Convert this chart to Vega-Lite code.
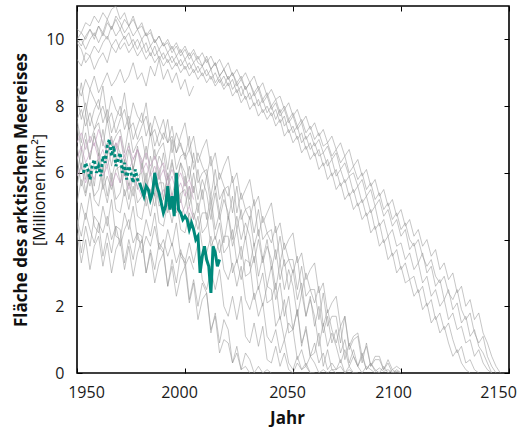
{
"$schema":"https://vega.github.io/schema/vega-lite/v6.json",
"width":432,"height":367,
"autosize":{"type":"none"},
"padding":{"left":77,"top":6,"right":12,"bottom":54},
"background":"white",
"config":{"view":{"stroke":"black","strokeWidth":1.6},"font":"Open Sans","axis":{"grid":false,"domain":false,"labelFont":"Open Sans","labelFontSize":16,"labelColor":"#1a1a1a","tickColor":"black","tickWidth":1,"titleFont":"Open Sans","titleColor":"#111"}},
"datasets":{
"runs":[
{"year":1950,"a1":10.0,"a2":10.3,"a3":9.9,"a4":10.0,"a5":9.4,"a6":9.9,"h1":8.6,"h2":7.6,"h3":6.4,"h4":5.9,"h5":4.6,"h6":6.9,"b1":7.4,"b2":5.9,"b3":8.3,"b4":5.1,"b5":4.2,"b6":6.8,"b7":8.0,"b8":6.5,"b9":4.3,"b10":7.6,"b11":5.6,"b12":4.6},
{"year":1952,"a1":9.8,"a2":10.2,"a3":10.0,"a4":10.2,"a5":9.2,"a6":9.7,"h1":8.3,"h2":7.9,"h3":6.8,"h4":6.2,"h5":4.1,"h6":7.2,"b1":6.7,"b2":6.7,"b3":7.6,"b4":5.8,"b5":3.3,"b6":6.1,"b7":8.7,"b8":5.6,"b9":5.1,"b10":6.9,"b11":6.3,"b12":3.6},
{"year":1954,"a1":10.1,"a2":10.5,"a3":9.7,"a4":10.0,"a5":9.6,"a6":9.3,"h1":8.8,"h2":7.4,"h3":6.3,"h4":5.7,"h5":4.8,"h6":6.7,"b1":7.2,"b2":5.8,"b3":8.1,"b4":5.3,"b5":4.0,"b6":7.0,"b7":7.8,"b8":6.1,"b9":4.6,"b10":7.8,"b11":5.4,"b12":4.4},
{"year":1956,"a1":10.3,"a2":10.4,"a3":10.0,"a4":10.3,"a5":9.5,"a6":9.5,"h1":8.5,"h2":7.8,"h3":6.6,"h4":6.1,"h5":4.3,"h6":7.1,"b1":6.4,"b2":6.3,"b3":7.4,"b4":6.0,"b5":3.1,"b6":6.4,"b7":8.5,"b8":5.6,"b9":5.4,"b10":6.9,"b11":6.1,"b12":3.8},
{"year":1958,"a1":10.0,"a2":10.7,"a3":10.2,"a4":10.1,"a5":9.8,"a6":9.1,"h1":8.9,"h2":7.3,"h3":6.9,"h4":5.8,"h5":3.9,"h6":6.8,"b1":7.2,"b2":5.6,"b3":7.9,"b4":5.2,"b5":3.8,"b6":7.1,"b7":8.2,"b8":6.3,"b9":4.4,"b10":7.3,"b11":5.3,"b12":4.7},
{"year":1960,"a1":10.4,"a2":10.5,"a3":9.9,"a4":10.4,"a5":9.6,"a6":9.4,"h1":8.4,"h2":7.7,"h3":6.4,"h4":6.3,"h5":4.5,"h6":7.3,"b1":6.5,"b2":6.6,"b3":8.2,"b4":5.0,"b5":4.1,"b6":6.7,"b7":7.9,"b8":6.4,"b9":4.2,"b10":7.5,"b11":5.5,"b12":4.5},
{"year":1962,"a1":10.2,"a2":10.8,"a3":10.2,"a4":10.1,"a5":9.9,"a6":9.6,"h1":8.7,"h2":8.0,"h3":6.7,"h4":5.9,"h5":4.2,"h6":6.9,"b1":7.3,"b2":5.7,"b3":7.5,"b4":5.7,"b5":3.2,"b6":6.0,"b7":8.6,"b8":5.5,"b9":5.0,"b10":6.8,"b11":6.2,"b12":3.5},
{"year":1964,"a1":10.6,"a2":10.6,"a3":10.0,"a4":10.5,"a5":10.1,"a6":9.3,"h1":9.0,"h2":7.5,"h3":6.2,"h4":6.2,"h5":4.7,"h6":6.6,"b1":6.5,"b2":6.5,"b3":7.9,"b4":5.1,"b5":3.9,"b6":6.9,"b7":7.6,"b8":5.9,"b9":4.4,"b10":7.6,"b11":5.3,"b12":4.2},
{"year":1966,"a1":10.3,"a2":10.9,"a3":10.4,"a4":10.3,"a5":9.8,"a6":9.8,"h1":8.6,"h2":7.8,"h3":6.6,"h4":5.6,"h5":4.0,"h6":7.0,"b1":7.1,"b2":5.8,"b3":7.2,"b4":5.8,"b5":3.0,"b6":6.2,"b7":8.3,"b8":5.5,"b9":5.2,"b10":6.8,"b11":6.0,"b12":3.6},
{"year":1968,"a1":10.7,"a2":11.0,"a3":10.1,"a4":10.6,"a5":10.0,"a6":9.6,"h1":8.8,"h2":7.2,"h3":6.9,"h4":6.0,"h5":4.4,"h6":6.7,"b1":6.3,"b2":6.4,"b3":7.6,"b4":4.9,"b5":3.7,"b6":6.9,"b7":7.9,"b8":6.1,"b9":4.1,"b10":7.1,"b11":5.2,"b12":4.4},
{"year":1970,"a1":10.5,"a2":10.6,"a3":10.3,"a4":10.3,"a5":9.7,"a6":9.9,"h1":9.1,"h2":7.6,"h3":6.3,"h4":5.7,"h5":3.8,"h6":7.1,"b1":7.1,"b2":5.7,"b3":8.0,"b4":4.8,"b5":4.0,"b6":6.6,"b7":7.7,"b8":6.2,"b9":4.0,"b10":7.3,"b11":5.4,"b12":4.3},
{"year":1972,"a1":10.2,"a2":10.8,"a3":10.0,"a4":10.6,"a5":9.9,"a6":10.1,"h1":8.7,"h2":7.9,"h3":6.5,"h4":6.1,"h5":4.3,"h6":6.5,"b1":6.3,"b2":6.4,"b3":7.3,"b4":5.5,"b5":3.1,"b6":5.9,"b7":8.4,"b8":5.3,"b9":4.8,"b10":6.6,"b11":6.1,"b12":3.3},
{"year":1974,"a1":10.4,"a2":10.4,"a3":10.2,"a4":10.4,"a5":9.6,"a6":9.8,"h1":8.9,"h2":7.3,"h3":6.1,"h4":5.5,"h5":4.6,"h6":6.8,"b1":6.9,"b2":5.6,"b3":7.7,"b4":4.9,"b5":3.8,"b6":6.7,"b7":7.4,"b8":5.7,"b9":4.3,"b10":7.4,"b11":5.2,"b12":4.0},
{"year":1976,"a1":10.1,"a2":10.6,"a3":9.8,"a4":10.7,"a5":9.8,"a6":10.0,"h1":9.3,"h2":7.5,"h3":6.4,"h4":5.9,"h5":3.9,"h6":6.4,"b1":6.1,"b2":6.2,"b3":7.0,"b4":5.6,"b5":2.9,"b6":6.1,"b7":8.1,"b8":5.3,"b9":5.0,"b10":6.6,"b11":5.9,"b12":3.4},
{"year":1978,"a1":10.3,"a2":10.3,"a3":10.0,"a4":10.3,"a5":9.5,"a6":9.7,"h1":8.8,"h2":7.0,"h3":6.7,"h4":5.6,"h5":4.2,"h6":6.7,"b1":6.8,"b2":5.5,"b3":7.4,"b4":4.7,"b5":3.6,"b6":6.7,"b7":7.7,"b8":5.9,"b9":4.0,"b10":6.9,"b11":5.1,"b12":4.2},
{"year":1980,"a1":10.0,"a2":10.5,"a3":9.7,"a4":10.4,"a5":9.7,"a6":10.0,"h1":9.0,"h2":7.4,"h3":6.0,"h4":5.3,"h5":3.6,"h6":6.3,"b1":6.1,"b2":6.3,"b3":7.8,"b4":4.6,"b5":4.0,"b6":6.4,"b7":7.5,"b8":6.0,"b9":3.9,"b10":7.1,"b11":5.3,"b12":4.1},
{"year":1982,"a1":10.2,"a2":10.1,"a3":9.9,"a4":10.1,"a5":9.4,"a6":9.6,"h1":8.6,"h2":7.7,"h3":6.3,"h4":5.7,"h5":4.1,"h6":6.6,"b1":6.8,"b2":5.5,"b3":7.1,"b4":5.3,"b5":3.0,"b6":5.7,"b7":8.1,"b8":5.0,"b9":4.6,"b10":6.4,"b11":6.0,"b12":3.0},
{"year":1984,"a1":9.8,"a2":10.2,"a3":9.5,"a4":10.3,"a5":9.6,"a6":9.8,"h1":9.2,"h2":7.1,"h3":5.9,"h4":5.4,"h5":3.8,"h6":6.2,"b1":6.0,"b2":6.0,"b3":7.5,"b4":4.7,"b5":3.6,"b6":6.5,"b7":7.1,"b8":5.5,"b9":4.1,"b10":7.2,"b11":5.1,"b12":3.7},
{"year":1986,"a1":10.0,"a2":9.9,"a3":9.8,"a4":9.9,"a5":9.3,"a6":9.5,"h1":8.9,"h2":7.3,"h3":6.2,"h4":5.8,"h5":4.4,"h6":6.5,"b1":6.7,"b2":5.3,"b3":6.8,"b4":5.4,"b5":2.7,"b6":5.9,"b7":7.7,"b8":5.0,"b9":4.8,"b10":6.4,"b11":5.8,"b12":3.1},
{"year":1988,"a1":9.7,"a2":10.1,"a3":9.4,"a4":10.1,"a5":9.5,"a6":9.7,"h1":9.4,"h2":6.8,"h3":5.8,"h4":5.2,"h5":3.7,"h6":6.1,"b1":5.8,"b2":6.1,"b3":7.2,"b4":4.5,"b5":3.3,"b6":6.5,"b7":7.3,"b8":5.7,"b9":3.8,"b10":6.7,"b11":5.0,"b12":3.9},
{"year":1990,"a1":9.9,"a2":9.8,"a3":9.6,"a4":9.8,"a5":9.2,"a6":9.4,"h1":8.8,"h2":7.2,"h3":6.1,"h4":5.5,"h5":4.0,"h6":6.3,"b1":6.6,"b2":5.2,"b3":7.6,"b4":4.4,"b5":3.6,"b6":6.2,"b7":7.0,"b8":5.7,"b9":3.6,"b10":6.9,"b11":5.2,"b12":3.7},
{"year":1992,"a1":9.6,"a2":9.9,"a3":9.3,"a4":10.0,"a5":9.4,"a6":9.6,"h1":9.1,"h2":6.9,"h3":5.6,"h4":5.0,"h5":3.5,"h6":5.8,"b1":5.8,"b2":6.0,"b3":6.9,"b4":5.1,"b5":2.6,"b6":5.5,"b7":7.6,"b8":4.8,"b9":4.3,"b10":6.1,"b11":5.9,"b12":2.6},
{"year":1994,"a1":9.8,"a2":9.6,"a3":9.5,"a4":9.7,"a5":9.1,"a6":9.3,"h1":8.7,"h2":7.1,"h3":5.9,"h4":5.4,"h5":3.9,"h6":6.1,"b1":6.4,"b2":5.3,"b3":7.4,"b4":4.5,"b5":3.2,"b6":6.3,"b7":6.6,"b8":5.2,"b9":3.8,"b10":7.0,"b11":4.9,"b12":3.4},
{"year":1996,"a1":9.5,"a2":9.8,"a3":9.2,"a4":9.9,"a5":9.3,"a6":9.5,"h1":9.0,"h2":6.6,"h3":5.4,"h4":4.9,"h5":3.3,"h6":5.7,"b1":5.6,"b2":5.9,"b3":6.6,"b4":5.2,"b5":2.3,"b6":5.7,"b7":7.2,"b8":4.8,"b9":4.5,"b10":6.1,"b11":5.6,"b12":2.7},
{"year":1998,"a1":9.7,"a2":9.5,"a3":9.4,"a4":9.6,"a5":9.0,"a6":9.2,"h1":8.5,"h2":6.9,"h3":5.7,"h4":5.2,"h5":3.7,"h6":6.0,"b1":6.3,"b2":5.1,"b3":7.1,"b4":4.3,"b5":2.9,"b6":6.3,"b7":6.8,"b8":5.4,"b9":3.5,"b10":6.5,"b11":4.7,"b12":3.6},
{"year":2000,"a1":9.4,"a2":9.7,"a3":9.1,"a4":9.8,"a5":9.2,"a6":9.4,"h1":8.8,"h2":6.4,"h3":5.3,"h4":4.7,"h5":3.2,"h6":5.6,"b1":5.6,"b2":5.9,"b3":7.5,"b4":4.2,"b5":3.2,"b6":6.0,"b7":6.5,"b8":5.5,"b9":3.3,"b10":6.6,"b11":5.0,"b12":3.4},
{"year":2002,"a1":9.6,"a2":9.4,"a3":9.3,"a4":9.5,"a5":8.9,"a6":9.1,"h1":8.3,"h2":6.7,"h3":5.6,"h4":5.0,"h5":3.5,"h6":5.8,"b1":6.2,"b2":5.0,"b3":6.7,"b4":4.8,"b5":2.1,"b6":5.2,"b7":7.1,"b8":4.5,"b9":3.9,"b10":5.8,"b11":5.6,"b12":2.2},
{"year":2004,"a1":9.3,"a2":9.6,"a3":9.0,"a4":9.7,"a5":9.1,"a6":9.3,"h1":8.6,"h2":6.3,"h3":5.2,"h4":4.6,"h5":3.1,"h6":5.4,"b1":5.4,"b2":5.6,"b3":7.1,"b4":4.2,"b5":2.7,"b6":6.0,"b7":6.1,"b8":4.8,"b9":3.3,"b10":6.6,"b11":4.6,"b12":2.8},
{"year":2006,"a1":9.5,"a2":9.3,"a3":9.2,"a4":9.4,"a5":8.8,"a6":9.0,"b1":6.1,"b2":4.8,"b3":6.3,"b4":4.7,"b5":1.6,"b6":5.2,"b7":6.6,"b8":4.3,"b9":3.9,"b10":5.7,"b11":5.1,"b12":2.0},
{"year":2008,"a1":9.2,"a2":9.2,"a3":8.9,"a4":9.6,"a5":9.0,"a6":9.2,"b1":5.2,"b2":5.5,"b3":6.7,"b4":3.8,"b5":2.2,"b6":5.8,"b7":6.2,"b8":4.8,"b9":2.8,"b10":6.0,"b11":4.2,"b12":2.7},
{"year":2010,"a1":9.4,"a2":9.5,"a3":9.1,"a4":9.3,"a5":8.7,"a6":8.9,"b1":5.9,"b2":4.6,"b3":7.0,"b4":3.6,"b5":2.4,"b6":5.4,"b7":5.9,"b8":4.8,"b9":2.5,"b10":6.1,"b11":4.4,"b12":2.4},
{"year":2012,"a1":9.1,"a2":9.1,"a3":8.8,"a4":9.5,"a5":8.9,"a6":9.1,"b1":5.0,"b2":5.3,"b3":6.2,"b4":4.1,"b5":1.3,"b6":4.6,"b7":6.5,"b8":3.8,"b9":3.1,"b10":5.3,"b11":5.0,"b12":1.2},
{"year":2014,"a1":9.3,"a2":9.3,"a3":9.0,"a4":9.2,"a5":8.6,"a6":8.7,"b1":5.6,"b2":4.3,"b3":6.6,"b4":3.5,"b5":1.7,"b6":5.4,"b7":5.5,"b8":4.1,"b9":2.5,"b10":6.1,"b11":4.0,"b12":1.8},
{"year":2016,"a1":8.9,"a2":8.9,"a3":8.7,"a4":9.4,"a5":8.8,"a6":8.9,"b1":4.8,"b2":4.8,"b3":5.8,"b4":4.0,"b5":0.6,"b6":4.6,"b7":6.0,"b8":3.6,"b9":3.1,"b10":5.2,"b11":4.5,"b12":0.9},
{"year":2018,"a1":9.1,"a2":9.1,"a3":8.9,"a4":9.1,"a5":8.5,"a6":8.6,"b1":5.5,"b2":3.9,"b3":6.2,"b4":3.1,"b5":1.0,"b6":5.2,"b7":5.6,"b8":4.1,"b9":2.0,"b10":5.5,"b11":3.6,"b12":1.6},
{"year":2020,"a1":8.8,"a2":8.8,"a3":8.6,"a4":9.3,"a5":8.7,"a6":8.9,"b1":4.6,"b2":4.7,"b3":6.5,"b4":2.8,"b5":0.9,"b6":4.8,"b7":5.3,"b8":4.1,"b9":1.7,"b10":5.6,"b11":3.8,"b12":1.3},
{"year":2022,"a1":9.0,"a2":9.0,"a3":8.8,"a4":8.9,"a5":8.3,"a6":8.5,"b1":5.3,"b2":3.8,"b3":5.7,"b4":3.3,"b5":0.3,"b6":4.0,"b7":5.9,"b8":3.0,"b9":2.3,"b10":4.8,"b11":4.3,"b12":0.3},
{"year":2024,"a1":8.7,"a2":8.6,"a3":8.4,"a4":9.1,"a5":8.5,"a6":8.7,"b1":4.3,"b2":4.3,"b3":6.0,"b4":2.6,"b5":0.6,"b6":4.7,"b7":4.8,"b8":3.4,"b9":1.6,"b10":5.6,"b11":3.3,"b12":0.8},
{"year":2026,"a1":8.9,"a2":8.8,"a3":8.6,"a4":8.8,"a5":8.1,"a6":8.3,"b1":4.9,"b2":3.4,"b3":5.2,"b4":3.2,"b5":0.1,"b6":4.0,"b7":5.4,"b8":2.8,"b9":2.3,"b10":4.6,"b11":3.8,"b12":0.1},
{"year":2028,"a1":8.5,"a2":8.5,"a3":8.2,"a4":9.0,"a5":8.3,"a6":8.6,"b1":4.0,"b2":4.1,"b3":5.5,"b4":2.2,"b5":0.2,"b6":4.5,"b7":4.9,"b8":3.4,"b9":1.1,"b10":4.9,"b11":2.9,"b12":0.6},
{"year":2030,"a1":8.7,"a2":8.7,"a3":8.4,"a4":8.7,"a5":7.9,"a6":8.2,"b1":4.7,"b2":3.2,"b3":5.8,"b4":1.9,"b5":0.0,"b6":4.1,"b7":4.6,"b8":3.3,"b9":0.9,"b10":5.0,"b11":3.0,"b12":0.4},
{"year":2032,"a1":8.4,"a2":8.3,"a3":8.0,"a4":8.9,"a5":8.1,"a6":8.4,"b1":3.8,"b2":3.9,"b3":5.0,"b4":2.4,"b6":3.3,"b7":5.2,"b8":2.2,"b9":1.5,"b10":4.2,"b11":3.5,"b12":0.0},
{"year":2034,"a1":8.6,"a2":8.5,"a3":8.2,"a4":8.5,"a5":7.7,"a6":8.0,"b1":4.3,"b2":2.9,"b3":5.3,"b4":1.7,"b6":4.0,"b7":4.1,"b8":2.6,"b9":0.8,"b10":4.9,"b11":2.5,"b12":0.2},
{"year":2036,"a1":8.2,"a2":8.1,"a3":7.8,"a4":8.7,"a5":7.9,"a6":8.2,"b1":3.4,"b2":3.5,"b3":4.5,"b4":2.1,"b6":3.3,"b7":4.7,"b8":2.0,"b9":1.4,"b10":4.0,"b11":3.0,"b12":0.0},
{"year":2038,"a1":8.4,"a2":8.3,"a3":8.0,"a4":8.3,"a5":7.6,"a6":7.8,"b1":4.0,"b2":2.6,"b3":4.8,"b4":1.1,"b6":3.8,"b7":4.2,"b8":2.6,"b9":0.4,"b10":4.2,"b11":2.1,"b12":0.1},
{"year":2040,"a1":8.0,"a2":7.9,"a3":7.7,"a4":8.5,"a5":7.8,"a6":8.0,"b1":3.1,"b2":3.2,"b3":5.1,"b4":0.9,"b6":3.4,"b7":3.9,"b8":2.5,"b9":0.3,"b10":4.3,"b11":2.2,"b12":0.0},
{"year":2042,"a1":8.2,"a2":8.1,"a3":7.9,"a4":8.2,"a5":7.4,"a6":7.6,"b1":3.7,"b2":2.2,"b3":4.2,"b4":1.3,"b6":2.5,"b7":4.4,"b8":1.4,"b9":0.8,"b10":3.4,"b11":2.7},
{"year":2044,"a1":7.8,"a2":7.7,"a3":7.5,"a4":8.3,"a5":7.6,"a6":7.9,"b1":2.8,"b2":2.7,"b3":4.5,"b4":0.6,"b6":3.3,"b7":3.3,"b8":1.7,"b9":0.2,"b10":4.1,"b11":1.6},
{"year":2046,"a1":8.0,"a2":7.9,"a3":7.7,"a4":7.9,"a5":7.1,"a6":7.4,"b1":3.4,"b2":1.7,"b3":3.7,"b4":1.0,"b6":2.5,"b7":3.9,"b8":1.0,"b9":0.6,"b10":3.2,"b11":2.2},
{"year":2048,"a1":7.6,"a2":7.5,"a3":7.2,"a4":8.1,"a5":7.3,"a6":7.6,"b1":2.5,"b2":2.3,"b3":4.0,"b4":0.3,"b6":3.1,"b7":3.4,"b8":1.5,"b9":0.1,"b10":3.4,"b11":1.2},
{"year":2050,"a1":7.8,"a2":7.7,"a3":7.4,"a4":7.7,"a5":6.9,"a6":7.2,"b1":3.1,"b2":1.3,"b3":4.2,"b4":0.1,"b6":2.6,"b7":3.0,"b8":1.3,"b9":0.0,"b10":3.4,"b11":1.3},
{"year":2052,"a1":7.4,"a2":7.3,"a3":7.0,"a4":7.9,"a5":7.1,"a6":7.4,"b1":2.2,"b2":1.9,"b3":3.3,"b4":0.5,"b6":1.7,"b7":3.5,"b8":0.4,"b9":0.3,"b10":2.5,"b11":1.9},
{"year":2054,"a1":7.6,"a2":7.5,"a3":7.2,"a4":7.5,"a5":6.6,"a6":6.9,"b1":2.7,"b2":0.9,"b3":3.6,"b4":0.1,"b6":2.4,"b7":2.4,"b8":0.7,"b9":0.1,"b10":3.2,"b11":0.8},
{"year":2056,"a1":7.2,"a2":7.0,"a3":6.7,"a4":7.7,"a5":6.8,"a6":7.1,"b1":1.7,"b2":1.3,"b3":2.8,"b4":0.3,"b6":1.7,"b7":3.0,"b8":0.2,"b9":0.2,"b10":2.3,"b11":1.4},
{"year":2058,"a1":7.4,"a2":7.2,"a3":6.9,"a4":7.3,"a5":6.4,"a6":6.7,"b1":2.3,"b2":0.5,"b3":3.1,"b4":0.0,"b6":2.2,"b7":2.5,"b8":0.5,"b9":0.0,"b10":2.5,"b11":0.5},
{"year":2060,"a1":7.0,"a2":6.8,"a3":6.5,"a4":7.5,"a5":6.6,"a6":6.9,"b1":1.4,"b2":0.9,"b3":3.3,"b4":0.0,"b6":1.7,"b7":2.1,"b8":0.3,"b9":0.0,"b10":2.5,"b11":0.6},
{"year":2062,"a1":7.2,"a2":7.0,"a3":6.7,"a4":7.1,"a5":6.1,"a6":6.5,"b1":2.0,"b2":0.3,"b3":2.4,"b6":0.8,"b7":2.6,"b8":0.0,"b10":1.6,"b11":1.2},
{"year":2064,"a1":6.8,"a2":6.6,"a3":6.2,"a4":7.3,"a5":6.3,"a6":6.6,"b1":1.2,"b2":0.6,"b3":2.7,"b6":1.5,"b7":1.4,"b8":0.1,"b10":2.4,"b11":0.2},
{"year":2066,"a1":6.9,"a2":6.8,"a3":6.4,"a4":6.9,"a5":5.8,"a6":6.2,"b1":1.7,"b2":0.1,"b3":1.8,"b6":0.8,"b7":1.9,"b8":0.0,"b10":1.4,"b11":0.7},
{"year":2068,"a1":6.5,"a2":6.4,"a3":5.9,"a4":7.1,"a5":6.0,"a6":6.4,"b1":0.9,"b2":0.3,"b3":2.1,"b6":1.2,"b7":1.3,"b8":0.1,"b10":1.7,"b11":0.1},
{"year":2070,"a1":6.7,"a2":6.6,"a3":6.1,"a4":6.7,"a5":5.5,"a6":5.9,"b1":1.3,"b2":0.1,"b3":2.3,"b6":0.8,"b7":0.9,"b8":0.0,"b10":1.7,"b11":0.1},
{"year":2072,"a1":6.3,"a2":6.1,"a3":5.6,"a4":6.9,"a5":5.7,"a6":6.1,"b1":0.6,"b2":0.2,"b3":1.4,"b6":0.3,"b7":1.4,"b10":0.9,"b11":0.4},
{"year":2074,"a1":6.5,"a2":6.3,"a3":5.8,"a4":6.5,"a5":5.2,"a6":5.7,"b1":1.0,"b2":0.0,"b3":1.7,"b6":0.7,"b7":0.4,"b10":1.7,"b11":0.0},
{"year":2076,"a1":6.0,"a2":5.9,"a3":5.3,"a4":6.7,"a5":5.4,"a6":5.9,"b1":0.3,"b2":0.1,"b3":0.8,"b6":0.2,"b7":0.9,"b10":0.7,"b11":0.2},
{"year":2078,"a1":6.2,"a2":6.0,"a3":5.5,"a4":6.2,"a5":4.9,"a6":5.4,"b1":0.7,"b2":0.0,"b3":1.1,"b6":0.5,"b7":0.5,"b10":1.0,"b11":0.0},
{"year":2080,"a1":5.8,"a2":5.6,"a3":5.0,"a4":6.4,"a5":5.1,"a6":5.6,"b1":0.2,"b2":0.0,"b3":1.2,"b6":0.2,"b7":0.2,"b10":1.1,"b11":0.0},
{"year":2082,"a1":6.0,"a2":5.8,"a3":5.2,"a4":5.9,"a5":4.6,"a6":5.1,"b1":0.5,"b3":0.5,"b6":0.0,"b7":0.6,"b10":0.3},
{"year":2084,"a1":5.5,"a2":5.3,"a3":4.7,"a4":6.1,"a5":4.8,"a6":5.3,"b1":0.1,"b3":0.8,"b6":0.2,"b7":0.1,"b10":0.9},
{"year":2086,"a1":5.7,"a2":5.5,"a3":4.9,"a4":5.6,"a5":4.2,"a6":4.8,"b1":0.3,"b3":0.2,"b6":0.1,"b7":0.3,"b10":0.2},
{"year":2088,"a1":5.2,"a2":5.0,"a3":4.3,"a4":5.8,"a5":4.4,"a6":5.0,"b1":0.05,"b3":0.4,"b6":0.0,"b7":0.1,"b10":0.5},
{"year":2090,"a1":5.4,"a2":5.2,"a3":4.5,"a4":5.3,"a5":3.8,"a6":4.4,"b1":0.15,"b3":0.4,"b6":0.0,"b7":0.0,"b10":0.5},
{"year":2092,"a1":4.9,"a2":4.7,"a3":3.9,"a4":5.5,"a5":4.0,"a6":4.6,"b1":0.05,"b3":0.1,"b7":0.2,"b10":0.1},
{"year":2094,"a1":5.1,"a2":4.9,"a3":4.1,"a4":5.0,"a5":3.4,"a6":4.1,"b1":0.1,"b3":0.3,"b7":0.0,"b10":0.4},
{"year":2096,"a1":4.6,"a2":4.4,"a3":3.5,"a4":5.2,"a5":3.6,"a6":4.3,"b1":0.0,"b3":0.0,"b7":0.1,"b10":0.1},
{"year":2098,"a1":4.8,"a2":4.6,"a3":3.7,"a4":4.7,"a5":3.0,"a6":3.8,"b1":0.05,"b3":0.1,"b7":0.0,"b10":0.2},
{"year":2100,"a1":4.3,"a2":4.1,"a3":3.1,"a4":4.9,"a5":3.2,"a6":3.9,"b1":0.0,"b3":0.0,"b7":0.0,"b10":0.1},
{"year":2102,"a1":4.5,"a2":4.3,"a3":3.3,"a4":4.4,"a5":2.7,"a6":3.4},
{"year":2104,"a1":4.0,"a2":3.7,"a3":2.8,"a4":4.6,"a5":2.8,"a6":3.6},
{"year":2106,"a1":3.8,"a2":3.9,"a3":2.9,"a4":4.1,"a5":2.3,"a6":3.1},
{"year":2108,"a1":4.0,"a2":3.3,"a3":2.4,"a4":4.3,"a5":2.5,"a6":3.3},
{"year":2110,"a1":3.5,"a2":3.6,"a3":2.6,"a4":3.8,"a5":1.9,"a6":2.7},
{"year":2112,"a1":3.2,"a2":3.0,"a3":2.0,"a4":4.0,"a5":2.1,"a6":2.9},
{"year":2114,"a1":3.4,"a2":3.2,"a3":2.2,"a4":3.5,"a5":1.5,"a6":2.3},
{"year":2116,"a1":2.9,"a2":2.6,"a3":1.6,"a4":3.7,"a5":1.7,"a6":2.5},
{"year":2118,"a1":2.7,"a2":2.8,"a3":1.8,"a4":3.1,"a5":1.2,"a6":2.0},
{"year":2120,"a1":2.9,"a2":2.2,"a3":1.3,"a4":3.3,"a5":1.4,"a6":2.2},
{"year":2122,"a1":2.4,"a2":2.5,"a3":1.5,"a4":2.8,"a5":0.9,"a6":1.6},
{"year":2124,"a1":2.2,"a2":1.9,"a3":1.0,"a4":3.0,"a5":0.5,"a6":1.8},
{"year":2126,"a1":2.5,"a2":2.1,"a3":0.6,"a4":2.4,"a5":0.7,"a6":1.3},
{"year":2128,"a1":1.9,"a2":1.5,"a3":0.8,"a4":2.6,"a5":0.3,"a6":1.4},
{"year":2130,"a1":1.6,"a2":1.7,"a3":0.3,"a4":2.0,"a5":0.1,"a6":0.9},
{"year":2132,"a1":1.8,"a2":1.1,"a3":0.4,"a4":2.2,"a5":0.0,"a6":1.0},
{"year":2134,"a1":1.2,"a2":1.3,"a3":0.1,"a4":1.6,"a6":0.5},
{"year":2136,"a1":0.9,"a2":0.8,"a3":0.0,"a4":1.8,"a6":0.7},
{"year":2138,"a1":1.1,"a2":0.6,"a4":1.2,"a6":0.3},
{"year":2140,"a1":0.5,"a2":0.3,"a4":0.9,"a6":0.1},
{"year":2142,"a1":0.2,"a2":0.0,"a4":0.5,"a6":0.0},
{"year":2144,"a1":0.0,"a4":0.2},
{"year":2146,"a4":0.0}
],
"obs":[
{"year":1953,"area":6.0,"period":"pre"},{"year":1954,"area":6.3,"period":"pre"},{"year":1955,"area":6.1,"period":"pre"},{"year":1956,"area":5.8,"period":"pre"},{"year":1957,"area":6.2,"period":"pre"},{"year":1958,"area":6.4,"period":"pre"},{"year":1959,"area":6.0,"period":"pre"},{"year":1960,"area":6.2,"period":"pre"},{"year":1961,"area":5.9,"period":"pre"},{"year":1962,"area":6.5,"period":"pre"},{"year":1963,"area":6.3,"period":"pre"},{"year":1964,"area":6.8,"period":"pre"},{"year":1965,"area":7.0,"period":"pre"},{"year":1966,"area":6.5,"period":"pre"},{"year":1967,"area":6.8,"period":"pre"},{"year":1968,"area":6.2,"period":"pre"},{"year":1969,"area":6.4,"period":"pre"},{"year":1970,"area":6.6,"period":"pre"},{"year":1971,"area":6.0,"period":"pre"},{"year":1972,"area":6.3,"period":"pre"},{"year":1973,"area":5.8,"period":"pre"},{"year":1974,"area":6.2,"period":"pre"},{"year":1975,"area":6.0,"period":"pre"},{"year":1976,"area":5.7,"period":"pre"},{"year":1977,"area":6.1,"period":"pre"},{"year":1978,"area":5.8,"period":"pre"},{"year":1979,"area":5.7,"period":"pre"},
{"year":1979,"area":5.7,"period":"post"},{"year":1980,"area":5.5,"period":"post"},{"year":1981,"area":5.3,"period":"post"},{"year":1982,"area":5.6,"period":"post"},{"year":1983,"area":5.5,"period":"post"},{"year":1984,"area":5.2,"period":"post"},{"year":1985,"area":5.4,"period":"post"},{"year":1986,"area":6.0,"period":"post"},{"year":1987,"area":5.6,"period":"post"},{"year":1988,"area":5.4,"period":"post"},{"year":1989,"area":5.1,"period":"post"},{"year":1990,"area":4.8,"period":"post"},{"year":1991,"area":5.0,"period":"post"},{"year":1992,"area":5.6,"period":"post"},{"year":1993,"area":4.9,"period":"post"},{"year":1994,"area":5.3,"period":"post"},{"year":1995,"area":4.7,"period":"post"},{"year":1996,"area":6.0,"period":"post"},{"year":1997,"area":4.9,"period":"post"},{"year":1998,"area":4.8,"period":"post"},{"year":1999,"area":4.6,"period":"post"},{"year":2000,"area":4.7,"period":"post"},{"year":2001,"area":4.6,"period":"post"},{"year":2002,"area":4.3,"period":"post"},{"year":2003,"area":4.5,"period":"post"},{"year":2004,"area":4.3,"period":"post"},{"year":2005,"area":4.0,"period":"post"},{"year":2006,"area":4.1,"period":"post"},{"year":2007,"area":3.0,"period":"post"},{"year":2008,"area":3.5,"period":"post"},{"year":2009,"area":3.8,"period":"post"},{"year":2010,"area":3.4,"period":"post"},{"year":2011,"area":3.2,"period":"post"},{"year":2012,"area":2.4,"period":"post"},{"year":2013,"area":3.8,"period":"post"},{"year":2014,"area":3.6,"period":"post"},{"year":2015,"area":3.2,"period":"post"},{"year":2016,"area":3.4,"period":"post"}
]
},
"resolve":{"axis":{"x":"independent","y":"independent"}},
"layer":[
{"data":{"name":"runs"},
 "transform":[{"fold":["a1","a2","a3","a4","a5","a6","h1","h2","h5","b1","b2","b3","b4","b5","b6","b7","b8","b9","b10","b11","b12"],"as":["run","area"]},{"filter":"isValid(datum.area)"}],
 "mark":{"type":"line","stroke":"#999999","strokeWidth":0.75,"opacity":0.75,"clip":true},
 "encoding":{
  "x":{"field":"year","type":"quantitative","scale":{"domain":[1950,2150],"nice":false,"zero":false},"axis":{"title":"Jahr","values":[1950,2000,2050,2100,2150],"format":"d","tickSize":-5,"labelPadding":16,"labelFlush":false,"labelOffset":{"condition":[{"test":"datum.value == 1950","value":9},{"test":"datum.value == 2150","value":-11},{"test":"datum.value == 2100","value":-8}],"value":-6},"titleFontSize":17,"titleFontWeight":"bold","titlePadding":10,"titleX":210}},
  "y":{"field":"area","type":"quantitative","scale":{"domain":[0,11],"nice":false},"axis":{"title":"[Millionen km²]","values":[0,2,4,6,8,10],"tickSize":-5,"labelPadding":18,"titleFontSize":16,"titleFontWeight":"normal","titlePadding":-2}},
  "detail":{"field":"run"}}},
{"data":{"name":"runs"},
 "transform":[{"fold":["h3","h4","h6"],"as":["run","area"]},{"filter":"isValid(datum.area)"}],
 "mark":{"type":"line","stroke":"#c7a2c2","strokeWidth":0.8,"opacity":0.8,"clip":true},
 "encoding":{
  "x":{"field":"year","type":"quantitative","axis":{"orient":"top","labels":false,"title":null,"values":[1950,2000,2050,2100,2150],"tickSize":-5}},
  "y":{"field":"area","type":"quantitative","axis":{"orient":"right","labels":false,"title":null,"values":[0,2,4,6,8,10],"tickSize":-5}},
  "detail":{"field":"run"}}},
{"data":{"name":"obs"},
 "transform":[{"filter":"datum.period == 'pre'"}],
 "mark":{"type":"line","stroke":"#00897b","strokeWidth":3,"strokeDash":[3,2.5]},
 "encoding":{
  "x":{"field":"year","type":"quantitative","axis":null},
  "y":{"field":"area","type":"quantitative","axis":{"orient":"left","labels":false,"ticks":false,"title":"Fläche des arktischen Meereises","titleFontSize":17,"titleFontWeight":"bold","titlePadding":47}}}},
{"data":{"name":"obs"},
 "transform":[{"filter":"datum.period == 'post'"}],
 "mark":{"type":"line","stroke":"#00897b","strokeWidth":3},
 "encoding":{
  "x":{"field":"year","type":"quantitative","axis":null},
  "y":{"field":"area","type":"quantitative","axis":null}}}
]
}
